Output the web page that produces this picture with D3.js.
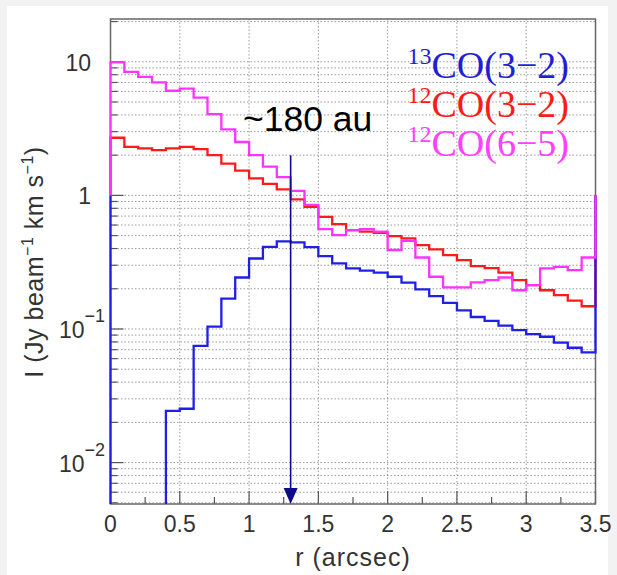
<!DOCTYPE html>
<html>
<head>
<meta charset="utf-8">
<script src="https://cdn.jsdelivr.net/npm/d3@7"></script>
<style>
  body { margin: 0; background: #f2f2f2; }
  svg { display: block; }
</style>
</head>
<body>
<div id="chart"></div>
<script>

// bin lower edges (arcsec), bin width 0.1
var binEdges = [0, 0.1, 0.2, 0.3, 0.4, 0.5, 0.6, 0.7, 0.8, 0.9,
	1.0, 1.1, 1.2, 1.3, 1.4, 1.5, 1.6, 1.7, 1.8, 1.9,
	2.0, 2.1, 2.2, 2.3, 2.4, 2.5, 2.6, 2.7, 2.8, 2.9,
	3.0, 3.1, 3.2, 3.3, 3.4];
var binWidth = 0.1;

var co13_32 = [0, 0, 0, 0, 0.0244, 0.0253, 0.0748, 0.104, 0.169, 0.243,
	0.337, 0.412, 0.452, 0.445, 0.41, 0.351, 0.31, 0.284, 0.273, 0.264,
	0.246, 0.222, 0.198, 0.176, 0.157, 0.138, 0.123, 0.115, 0.106, 0.098,
	0.0916, 0.0875, 0.079, 0.0724, 0.0669];

var co12_32 = [2.70, 2.31, 2.25, 2.18, 2.25, 2.31, 2.22, 2.0, 1.73, 1.53,
	1.34, 1.22, 1.11, 0.933, 0.82, 0.69, 0.61, 0.55, 0.535, 0.525,
	0.495, 0.476, 0.425, 0.394, 0.357, 0.328, 0.296, 0.285, 0.264, 0.232,
	0.213, 0.195, 0.179, 0.163, 0.148];

var co12_65 = [9.9, 8.4, 7.7, 7.0, 6.07, 6.3, 5.4, 4.06, 3.12, 2.51,
	2.0, 1.64, 1.37, 1.08, 0.85, 0.56, 0.505, 0.55, 0.56, 0.535,
	0.39, 0.457, 0.343, 0.246, 0.205, 0.205, 0.223, 0.232, 0.243, 0.195,
	0.213, 0.284, 0.292, 0.276, 0.343];

var xTicks = [0, 0.5, 1, 1.5, 2, 2.5, 3, 3.5];
var xTickLabels = ["0", "0.5", "1", "1.5", "2", "2.5", "3", "3.5"];
var yDecades = [0.01, 0.1, 1, 10];
var yDecadeLabels = [["10", "\u22122"], ["10", "\u22121"], ["1", null], ["10", null]];

var series = [
	{name: "12", trans: "CO(3\u22122)", values: co12_32, color: "#ff1a1a"},
	{name: "13", trans: "CO(3\u22122)", values: co13_32, color: "#1f1fe6"},
	{name: "12", trans: "CO(6\u22125)", values: co12_65, color: "#ff33ff"}
];
var legendOrder = [
	{iso: "13", trans: "CO(3\u22122)", color: "#1f1fd6"},
	{iso: "12", trans: "CO(3\u22122)", color: "#ff1a1a"},
	{iso: "12", trans: "CO(6\u22125)", color: "#ff40ff"}
];

var markerR = 1.3;     // arcsec
var markerTop = 2.0;   // where the arrow starts
var markerText = "~180 au";

var W = 617, H = 575;
var pL = 110.5, pR = 595.5, pT = 19, pB = 504;

var svg = d3.select("#chart").append("svg")
	.attr("width", W)
	.attr("height", H);

svg.append("rect")
	.attr("x", 7).attr("y", 6)
	.attr("width", 601).attr("height", H - 6)
	.attr("fill", "#fff");

var x = d3.scaleLinear().domain([0, 3.5]).range([pL, pR]);
var y = d3.scaleLog().domain([0.0049, 20.9]).range([pB, pT]);

// minor log ticks for grid
var yMinor = [];
[0.001, 0.01, 0.1, 1, 10].forEach(function(dec) {
	for (var k = 1; k <= 9; k++) {
		var v = +(dec * k).toPrecision(3);
		if (v > y.domain()[0] && v < y.domain()[1]) yMinor.push(v);
	}
});

var grid = svg.append("g").attr("class", "grid");
grid.selectAll(".hgrid")
	.data(yMinor)
	.enter().append("line")
	.attr("x1", pL).attr("x2", pR)
	.attr("y1", function(d) { return y(d); })
	.attr("y2", function(d) { return y(d); })
	.style("stroke", "#9a9a9a")
	.style("stroke-width", 1)
	.style("stroke-dasharray", "1.5,2");
grid.selectAll(".vgrid")
	.data(xTicks.slice(1, -1))
	.enter().append("line")
	.attr("y1", pT).attr("y2", pB)
	.attr("x1", function(d) { return x(d); })
	.attr("x2", function(d) { return x(d); })
	.style("stroke", "#9a9a9a")
	.style("stroke-width", 1)
	.style("stroke-dasharray", "1.5,2");

// ticks
var ticks = svg.append("g").style("stroke", "#555").style("stroke-width", 1.2);
ticks.selectAll(".ymaj")
	.data(yDecades)
	.enter().append("line")
	.attr("x1", pL).attr("x2", pL + 13)
	.attr("y1", function(d) { return y(d); })
	.attr("y2", function(d) { return y(d); });
ticks.selectAll(".ymin")
	.data(yMinor.filter(function(d) { return yDecades.indexOf(d) < 0; }))
	.enter().append("line")
	.attr("x1", pL).attr("x2", pL + 7)
	.attr("y1", function(d) { return y(d); })
	.attr("y2", function(d) { return y(d); });
ticks.selectAll(".xmaj")
	.data(xTicks)
	.enter().append("line")
	.attr("y1", pB).attr("y2", pB - 13)
	.attr("x1", function(d) { return x(d); })
	.attr("x2", function(d) { return x(d); });
ticks.selectAll(".xmin")
	.data(xTicks.slice(0, -1).map(function(d) { return d + 0.25; }))
	.enter().append("line")
	.attr("y1", pB).attr("y2", pB - 7)
	.attr("x1", function(d) { return x(d); })
	.attr("x2", function(d) { return x(d); });

// frame
svg.append("rect")
	.attr("x", pL).attr("y", pT)
	.attr("width", pR - pL).attr("height", pB - pT)
	.attr("fill", "none")
	.style("stroke", "#666")
	.style("stroke-width", 1.5);

// histograms
svg.append("clipPath").attr("id", "plotclip")
	.append("rect")
	.attr("x", pL - 2).attr("y", pT)
	.attr("width", pR - pL + 4).attr("height", pB - pT);

function yv(v) { return v > 0 ? y(v) : pB + 6; }

var line = d3.line()
	.x(function(d) { return x(d[0]); })
	.y(function(d) { return yv(d[1]); })
	.curve(d3.curveStepAfter);

var hists = svg.append("g").attr("clip-path", "url(#plotclip)");
series.forEach(function(s) {
	var pts = [[0, 1]];
	binEdges.forEach(function(e, i) { pts.push([e, s.values[i]]); });
	var last = binEdges[binEdges.length - 1] + binWidth;
	pts.push([last, s.values[s.values.length - 1]]);
	pts.push([last, 1]);
	hists.append("path")
		.attr("d", line(pts))
		.attr("fill", "none")
		.style("stroke", s.color)
		.style("stroke-width", 2.3)
		.style("stroke-linejoin", "miter");
});

// arrow marker
var ax = x(markerR);
svg.append("line")
	.attr("x1", ax).attr("x2", ax)
	.attr("y1", y(markerTop)).attr("y2", pB - 12)
	.style("stroke", "#0c0c8c")
	.style("stroke-width", 1.6);
svg.append("path")
	.attr("d", "M" + (ax - 7) + "," + (pB - 16) + "L" + (ax + 7) + "," + (pB - 16) + "L" + ax + "," + pB + "Z")
	.attr("fill", "#0c0c8c");

svg.append("text")
	.attr("x", 243).attr("y", 131)
	.style("font-family", "Liberation Sans, Arial, sans-serif")
	.style("font-size", "35.5px")
	.attr("fill", "#000")
	.text(markerText);

// legend
var leg = svg.append("g")
	.style("font-family", "Liberation Serif, Times New Roman, serif");
legendOrder.forEach(function(l, i) {
	var t = leg.append("text")
		.attr("x", 569)
		.attr("y", 78 + i * 39)
		.attr("text-anchor", "end")
		.attr("fill", l.color)
		.style("font-size", "38px");
	t.append("tspan").attr("dy", -14).style("font-size", "24px").text(l.iso);
	t.append("tspan").attr("dy", 14).text(l.trans);
});

// axis labels
var lab = svg.append("g")
	.style("font-family", "Liberation Sans, Arial, sans-serif")
	.attr("fill", "#333");
lab.selectAll(".xl")
	.data(xTicks)
	.enter().append("text")
	.attr("x", function(d) { return x(d); })
	.attr("y", 532)
	.attr("text-anchor", "middle")
	.style("font-size", "23px")
	.text(function(d, i) { return xTickLabels[i]; });

yDecades.forEach(function(d, i) {
	var lb = yDecadeLabels[i];
	var t = lab.append("text")
		.attr("y", y(d) + 9)
		.style("font-size", "23px");
	if (lb[1] === null) {
		t.attr("x", 91).attr("text-anchor", "end").text(lb[0]);
	} else {
		t.attr("x", 59).append("tspan").text(lb[0]);
		t.append("tspan").attr("dy", -16).style("font-size", "18px").text(lb[1]);
	}
});

lab.append("text")
	.attr("x", 353).attr("y", 566)
	.attr("text-anchor", "middle")
	.style("font-size", "25px")
	.style("letter-spacing", "1px")
	.text("r (arcsec)");

var yl = lab.append("text")
	.attr("transform", "translate(43,262) rotate(-90)")
	.attr("text-anchor", "middle")
	.style("font-size", "25px")
	.style("letter-spacing", "0.5px");
yl.append("tspan").text("I (Jy beam");
yl.append("tspan").attr("dy", -10).style("font-size", "16px").text("\u22121");
yl.append("tspan").attr("dy", 10).text(" km s");
yl.append("tspan").attr("dy", -10).style("font-size", "16px").text("\u22121");
yl.append("tspan").attr("dy", 10).text(")");

</script>
</body>
</html>
